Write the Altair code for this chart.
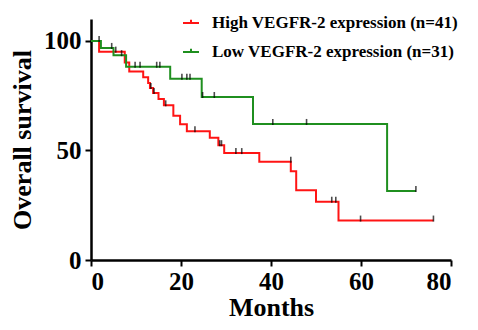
import altair as alt
import pandas as pd

HIGH = "High VEGFR-2 expression (n=41)"
LOW = "Low VEGFR-2 expression (n=31)"

# Kaplan-Meier step points (months, survival %)
high_t = [0, 1.8, 7.5, 8.5, 11.6, 12.7, 13.1, 13.8, 15.0, 16.2, 18.3, 19.8, 21.3,
          26.4, 28.3, 29.6, 37.4, 44.4, 45.6, 50.0, 55.0, 76.1]
high_s = [100, 95.1, 90.2, 86.0, 83.4, 80.8, 78.5, 76.2, 73.5, 70.6, 65.8, 62.0, 58.8,
          55.8, 52.4, 48.8, 44.9, 40.5, 31.8, 26.6, 18.0, 18.0]
low_t = [0, 2.2, 5.0, 7.8, 17.6, 24.6, 36.0, 65.8, 72.2]
low_s = [100, 96.8, 93.5, 88.2, 82.7, 74.4, 62.1, 31.5, 31.5]

# Censored observations
high_ct = [5.5, 13.3, 14.0, 16.6, 23.1, 28.6, 29.0, 32.2, 33.5, 44.4, 53.5, 54.4, 59.9, 76.1]
high_cs = [95.1, 78.5, 76.2, 70.6, 58.8, 52.4, 52.4, 48.8, 48.8, 44.9, 26.6, 26.6, 18.0, 18.0]
low_ct = [1.8, 4.6, 6.8, 9.8, 10.9, 14.6, 15.3, 20.2, 21.3, 22.0, 24.8, 27.4, 40.4, 47.9, 72.2]
low_cs = [100, 96.8, 93.5, 88.2, 88.2, 88.2, 88.2, 82.7, 82.7, 82.7, 74.4, 74.4, 62.1, 62.1, 31.5]

steps = pd.DataFrame(
    [{"t": t, "s": s, "g": HIGH} for t, s in zip(high_t, high_s)]
    + [{"t": t, "s": s, "g": LOW} for t, s in zip(low_t, low_s)]
)
cens = pd.DataFrame(
    [{"t": t, "s": s, "g": HIGH} for t, s in zip(high_ct, high_cs)]
    + [{"t": t, "s": s, "g": LOW} for t, s in zip(low_ct, low_cs)]
)

FONT = "Liberation Serif"

x = alt.X("t:Q", scale=alt.Scale(domain=[0, 80], nice=False),
          axis=alt.Axis(values=[0, 20, 40, 60, 80], title="Months", grid=False,
                        labelPadding=3, titlePadding=0))
y = alt.Y("s:Q", scale=alt.Scale(domain=[0, 110], nice=False),
          axis=alt.Axis(values=[0, 50, 100], title="Overall survival", grid=False,
                        labelPadding=4, titlePadding=8))

lines = alt.Chart(steps).mark_line(interpolate="step-after", strokeWidth=2).encode(
    x=x, y=y,
    color=alt.Color("g:N",
                    scale=alt.Scale(domain=[HIGH, LOW], range=["#ff1414", "#1f8f1f"]),
                    legend=alt.Legend(title=None, orient="none", legendX=91, legendY=-5,
                                      symbolType="M-1,0H1M0,0V-0.4", symbolSize=256,
                                      symbolStrokeWidth=2, labelOffset=12,
                                      labelFont=FONT, labelFontWeight="bold",
                                      labelFontSize=17, labelColor="black",
                                      rowPadding=12, padding=0, labelLimit=400)),
)

ticks = alt.Chart(cens).mark_tick(orient="vertical", size=6, thickness=1.6,
                                  color="black", yOffset=-2).encode(x=x, y=y)

chart = alt.layer(lines, ticks).properties(
    width=360, height=241,
    autosize=alt.AutoSizeParams(type="none"),
    padding={"left": 83, "top": 11, "right": 19, "bottom": 62},
).configure_view(stroke=None).configure_axis(
    labelFont=FONT, labelFontWeight="bold", labelFontSize=25, labelColor="black",
    titleFont=FONT, titleFontWeight="bold", titleFontSize=26, titleColor="black",
    domainColor="black", domainWidth=2.5, tickColor="black", tickWidth=2, tickSize=6,
)

chart.save("out.html", embed_options={"renderer": "svg", "actions": False})
